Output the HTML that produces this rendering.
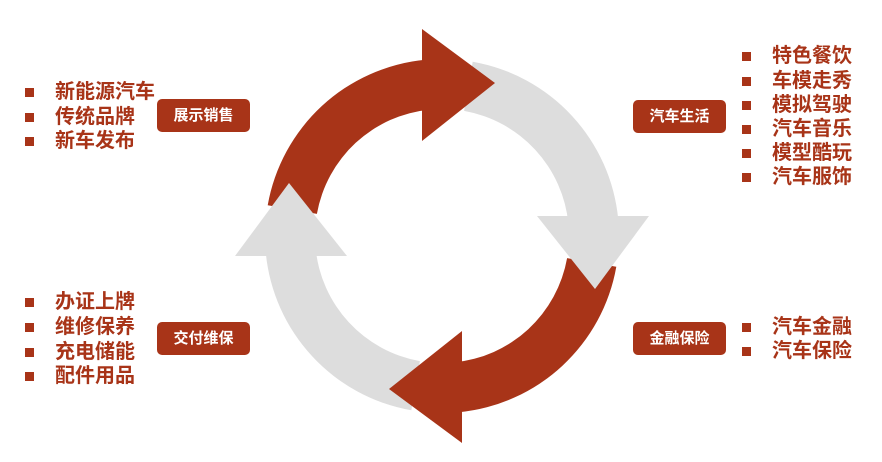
<!DOCTYPE html>
<html><head><meta charset="utf-8"><style>
html,body{margin:0;padding:0;background:#fff;}
body{width:882px;height:462px;position:relative;overflow:hidden;font-family:"Liberation Sans","Noto Sans CJK SC",sans-serif;}
.box{position:absolute;width:93px;height:33px;background:#A83418;border-radius:5px;color:#fff;font-weight:bold;font-size:15px;line-height:33px;text-align:center;}
.li{position:absolute;color:#A83418;font-weight:bold;font-size:20px;line-height:24px;white-space:nowrap;}
.li:before{content:"";position:absolute;left:-30px;top:8px;width:9px;height:9px;background:#A83418;}
</style></head><body>
<svg width="882" height="462" style="position:absolute;left:0;top:0">
<defs>
<path id="band" d="M-174.3,-30.7 A177,177 0 0 1 -17,-176.2 L-12,-126.4 A127,127 0 0 0 -125.1,-22.1 Z"/>
<path id="head" d="M-20,-207 L53,-153 L-20,-95 Z"/>
</defs>
<g transform="translate(442,236)">
<use href="#band" fill="#A83418"/>
<use href="#band" fill="#DDDDDD" transform="rotate(90)"/>
<use href="#band" fill="#A83418" transform="rotate(180)"/>
<use href="#band" fill="#DDDDDD" transform="rotate(270)"/>
<use href="#head" fill="#A83418"/>
<use href="#head" fill="#DDDDDD" transform="rotate(90)"/>
<use href="#head" fill="#A83418" transform="rotate(180)"/>
<use href="#head" fill="#DDDDDD" transform="rotate(270)"/>
</g>
</svg>
<div class="box" style="left:157px;top:99px">展示销售</div>
<div class="box" style="left:633px;top:100px">汽车生活</div>
<div class="box" style="left:157px;top:322px">交付维保</div>
<div class="box" style="left:633px;top:322px">金融保险</div>

<div class="li" style="left:55px;top:80px">新能源汽车</div>
<div class="li" style="left:55px;top:105px">传统品牌</div>
<div class="li" style="left:55px;top:129px">新车发布</div>

<div class="li" style="left:772px;top:44px">特色餐饮</div>
<div class="li" style="left:772px;top:69px">车模走秀</div>
<div class="li" style="left:772px;top:93px">模拟驾驶</div>
<div class="li" style="left:772px;top:117px">汽车音乐</div>
<div class="li" style="left:772px;top:141px">模型酷玩</div>
<div class="li" style="left:772px;top:165px">汽车服饰</div>

<div class="li" style="left:55px;top:290px">办证上牌</div>
<div class="li" style="left:55px;top:315px">维修保养</div>
<div class="li" style="left:55px;top:340px">充电储能</div>
<div class="li" style="left:55px;top:364px">配件用品</div>

<div class="li" style="left:772px;top:315px">汽车金融</div>
<div class="li" style="left:772px;top:339px">汽车保险</div>
</body></html>
